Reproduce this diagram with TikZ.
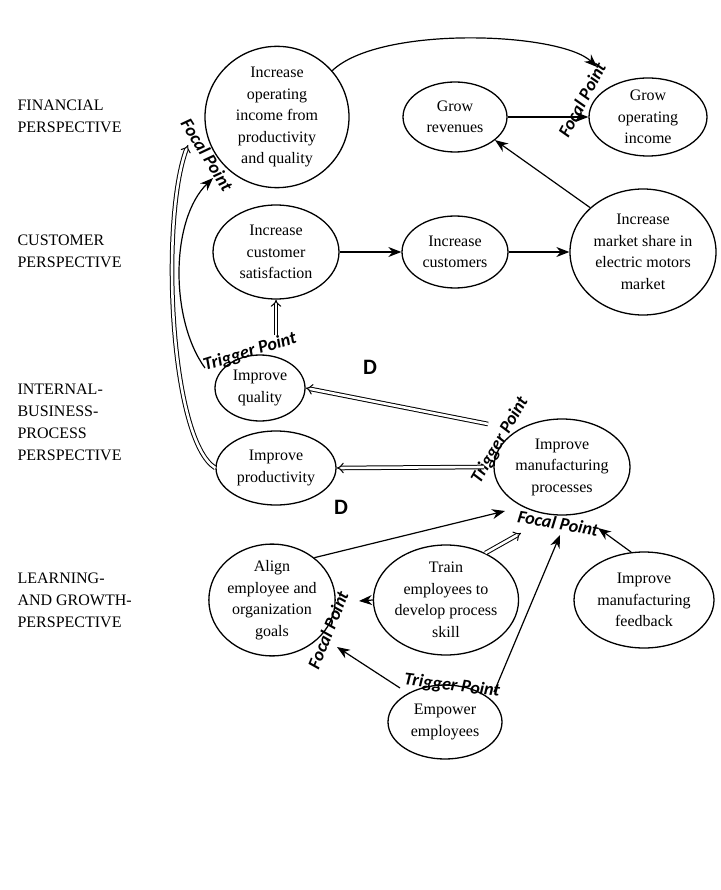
\documentclass[tikz,border=0pt]{standalone}
\usepackage{fontspec}
\setmainfont{Liberation Serif}
\newfontfamily\lab{Carlito}
\usetikzlibrary{arrows.meta,shapes.geometric}
\begin{document}
\begin{tikzpicture}[x=1pt,y=-1pt,
  el/.style={draw,ellipse,line width=1.3pt,align=center,inner sep=0pt,font=\fontsize{16}{21.5}\selectfont},
  arr/.style={line width=1.2pt,-{Stealth[length=13pt,width=10pt]}},
  dbl/.style={double,double distance=2.6pt,line width=1pt,-{Implies[length=12pt]}},
  pt/.style={font=\lab\bfseries\itshape\fontsize{18}{20}\selectfont},
  persp/.style={anchor=west,align=left,font=\fontsize{16}{22}\selectfont}]
\useasboundingbox (0,0) rectangle (720,890);
\fill[white] (0,0) rectangle (720,890);
\node[persp] (pf) at (14,116) {FINANCIAL\\PERSPECTIVE};
\node[persp] (pc) at (14,251) {CUSTOMER\\PERSPECTIVE};
\node[persp] (pi) at (14,422) {INTERNAL-\\BUSINESS-\\PROCESS\\PERSPECTIVE};
\node[persp] (pl) at (14,600) {LEARNING-\\AND GROWTH-\\PERSPECTIVE};
% nodes
\node[el,minimum width=144,minimum height=140] (inc) at (277,117) {Increase\\operating\\income from\\productivity\\and quality};
\node[el,minimum width=104,minimum height=70] (gr) at (455,117) {Grow\\revenues};
\node[el,minimum width=118,minimum height=78] (goi) at (648,117) {Grow\\operating\\income};
\node[el,minimum width=126,minimum height=94] (cs) at (276,252) {Increase\\customer\\satisfaction};
\node[el,minimum width=106,minimum height=72] (cu) at (455,252) {Increase\\customers};
\node[el,minimum width=146,minimum height=126] (ms) at (643,252) {Increase\\market share in\\electric motors\\market};
\node[el,minimum width=90,minimum height=66] (q) at (260,388) {Improve\\quality};
\node[el,minimum width=120,minimum height=74] (p) at (276,468) {Improve\\productivity};
\node[el,minimum width=136,minimum height=96] (mp) at (562,467) {Improve\\manufacturing\\processes};
\node[el,minimum width=122,minimum height=110] (al) at (272,600) {Align\\employee and\\organization\\goals};
\node[el,minimum width=132,minimum height=110] (tr) at (446,600) {Train\\employees to\\develop process\\skill};
\node[el,minimum width=140,minimum height=96] (fb) at (644,600) {Improve\\manufacturing\\feedback};
\node[el,minimum width=114,minimum height=74] (em) at (445,722) {Empower\\employees};
% labels
\node[pt,rotate=-58] (f1) at (207,155) {Focal Point};
\node[pt,rotate=62] (f2) at (582,100) {Focal Point};
\node[pt,rotate=17] (t1) at (250,352) {Trigger Point};
\node[font=\lab\bfseries\fontsize{22}{24}\selectfont] (d1) at (370,367) {D};
\node[font=\lab\bfseries\fontsize{22}{24}\selectfont] (d2) at (341,507) {D};
\node[pt,rotate=60] (t2) at (500,440) {Trigger Point};
\node[pt,rotate=-10] (f3) at (558,523) {Focal Point};
\node[pt,rotate=68] (f4) at (328,630) {Focal Point};
\node[pt,rotate=-7] (t3) at (452,686) {Trigger Point};
% connectors
\coordinate (c1) at (597,67);
\draw[arr] (inc.40) .. controls (380,25) and (560,32) .. (c1);
\draw[arr] (gr) -- (goi);
\draw[arr] (ms.140) -- (gr.-30);
\draw[arr] (cs) -- (cu);
\draw[arr] (cu) -- (ms);
\draw[dbl] (276,335) -- (cs.south);
\coordinate (c2) at (213,178);
\draw[arr] (205,368) .. controls (170,320) and (170,220) .. (c2);
\coordinate (c3) at (188,145);
\draw[dbl] (p.west) .. controls (170,440) and (160,220) .. (c3);
\draw[dbl] (488,424) -- (q.east);
\draw[dbl] (484,467) -- (p.east);
\coordinate (c4) at (505,511);
\draw[arr] (al.45) -- (c4);
\coordinate (c5) at (521,533);
\draw[dbl] (tr.50) -- (c5);
\coordinate (c6) at (560,535);
\draw[arr] (494,692) -- (c6);
\coordinate (c7) at (598,528);
\draw[arr] (fb.105) -- (c7);
\coordinate (c8) at (359,601);
\draw[arr] (tr.west) -- (c8);
\coordinate (c9) at (337,647);
\draw[arr] (400,688) -- (c9);
\end{tikzpicture}
\end{document}
